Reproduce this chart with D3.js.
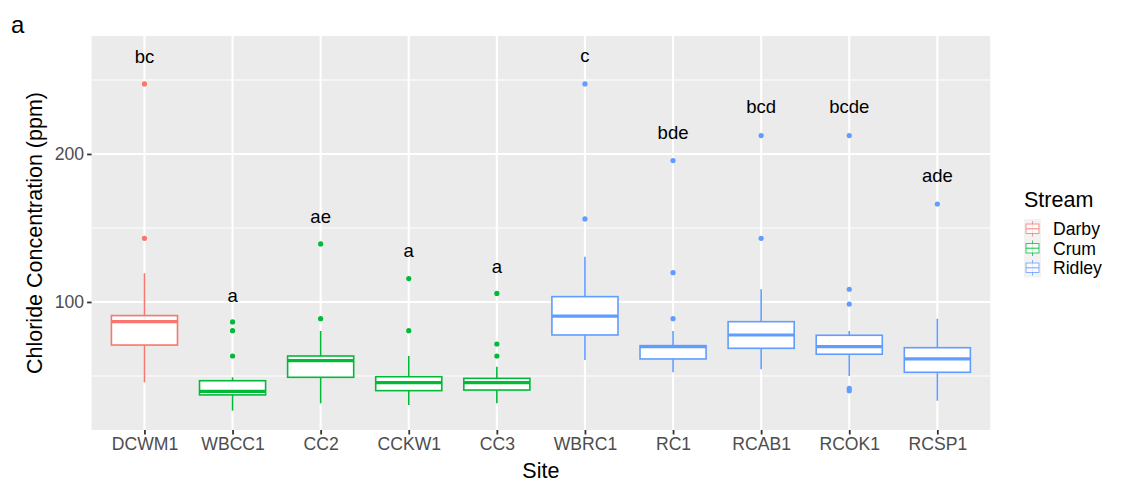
<!DOCTYPE html>
<html>
<head>
<meta charset="utf-8">
<script src="https://cdn.jsdelivr.net/npm/d3@7"></script>
<style>
  body { margin: 0; background: #ffffff; }
  text { font-family: "Liberation Sans", Arial, sans-serif; }
</style>
</head>
<body>
<div id="chart"></div>
<script>
// values (ppm)
const sites = ['DCWM1', 'WBCC1', 'CC2', 'CCKW1', 'CC3', 'WBRC1', 'RC1', 'RCAB1', 'RCOK1', 'RCSP1'];
const stream = ['Darby', 'Crum', 'Crum', 'Crum', 'Crum', 'Ridley', 'Ridley', 'Ridley', 'Ridley', 'Ridley'];
const whiskerLo = [45.7, 26.6, 31.5, 30.4, 31.5, 60.8, 52.5, 54.5, 50.0, 33.3];
const q1 = [70.9, 37.2, 49.1, 40.1, 40.5, 77.7, 61.5, 68.7, 64.7, 52.5];
const median = [86.7, 39.6, 60.4, 45.5, 45.5, 90.5, 69.8, 77.7, 69.8, 61.5];
const q3 = [90.8, 46.8, 63.5, 49.5, 48.4, 103.6, 70.5, 86.7, 77.5, 69.1];
const whiskerHi = [119.4, 49.1, 80.4, 63.5, 56.3, 130.6, 80.4, 108.6, 80.4, 88.7];
const outliers = [
  [247.3, 143.0],
  [86.5, 80.6, 63.5],
  [139.2, 88.7],
  [115.8, 80.6],
  [105.8, 71.6, 63.5],
  [247.3, 156.1],
  [195.5, 119.8, 88.7],
  [212.4, 143.0],
  [212.4, 108.6, 98.6, 41.7, 40.1],
  [166.2]
];
const letters = ['bc', 'a', 'ae', 'a', 'a', 'c', 'bde', 'bcd', 'bcde', 'ade'];
const letterY = [265.8, 104.7, 157.7, 134.7, 124.3, 266.9, 214.6, 232.0, 232.0, 185.3];
const yTicks = [100, 200];
const yMinor = [50, 150, 250];
const streams = ['Darby', 'Crum', 'Ridley'];
const streamColors = ['#F8766D', '#00BA38', '#619CFF'];

const width = 1125;
const height = 493;
const panel = { left: 91.6, right: 990.2, top: 36, bottom: 430 };

const svg = d3.select('#chart')
  .append('svg')
  .attr('width', width)
  .attr('height', height);

const x = d3.scalePoint()
  .domain(sites)
  .range([panel.left, panel.right])
  .padding(0.6);

const y = d3.scaleLinear()
  .domain([13.5, 279.7])
  .range([panel.bottom, panel.top]);

const color = d3.scaleOrdinal(streams, streamColors);
const boxW = x.step() * 0.75;

// panel background and grid
svg.append('rect')
  .attr('x', panel.left)
  .attr('y', panel.top)
  .attr('width', panel.right - panel.left)
  .attr('height', panel.bottom - panel.top)
  .attr('fill', '#EBEBEB');

svg.append('g')
  .selectAll('line')
  .data(yMinor)
  .join('line')
  .attr('x1', panel.left)
  .attr('x2', panel.right)
  .attr('y1', (d) => y(d))
  .attr('y2', (d) => y(d))
  .attr('stroke', '#ffffff')
  .attr('stroke-width', 1.1);

svg.append('g')
  .selectAll('line')
  .data(yTicks)
  .join('line')
  .attr('x1', panel.left)
  .attr('x2', panel.right)
  .attr('y1', (d) => y(d))
  .attr('y2', (d) => y(d))
  .attr('stroke', '#ffffff')
  .attr('stroke-width', 2.1);

svg.append('g')
  .selectAll('line')
  .data(sites)
  .join('line')
  .attr('x1', (d) => x(d))
  .attr('x2', (d) => x(d))
  .attr('y1', panel.top)
  .attr('y2', panel.bottom)
  .attr('stroke', '#ffffff')
  .attr('stroke-width', 2.1);

// axes
const yAxis = svg.append('g')
  .attr('transform', `translate(${panel.left},0)`)
  .call(d3.axisLeft(y).tickValues(yTicks).tickSize(4.5).tickPadding(3));
yAxis.select('.domain').remove();
yAxis.selectAll('line').attr('stroke', '#333333').attr('stroke-width', 1.8);
yAxis.selectAll('text')
  .attr('fill', '#4D4D4D')
  .style('font-size', '17.6px')
  .style('font-family', '"Liberation Sans", Arial, sans-serif');

const xAxis = svg.append('g')
  .attr('transform', `translate(0,${panel.bottom})`)
  .call(d3.axisBottom(x).tickSize(4.5).tickPadding(3));
xAxis.select('.domain').remove();
xAxis.selectAll('line').attr('stroke', '#333333').attr('stroke-width', 1.8);
xAxis.selectAll('text')
  .attr('fill', '#4D4D4D')
  .style('font-size', '17.6px')
  .style('font-family', '"Liberation Sans", Arial, sans-serif');

// boxplots
const boxes = svg.append('g')
  .selectAll('g')
  .data(sites)
  .join('g');

boxes.append('line')
  .attr('x1', (d) => x(d))
  .attr('x2', (d) => x(d))
  .attr('y1', (d, i) => y(whiskerHi[i]))
  .attr('y2', (d, i) => y(q3[i]))
  .attr('stroke', (d, i) => color(stream[i]))
  .attr('stroke-width', 1.6);

boxes.append('line')
  .attr('x1', (d) => x(d))
  .attr('x2', (d) => x(d))
  .attr('y1', (d, i) => y(q1[i]))
  .attr('y2', (d, i) => y(whiskerLo[i]))
  .attr('stroke', (d, i) => color(stream[i]))
  .attr('stroke-width', 1.6);

boxes.append('rect')
  .attr('x', (d) => x(d) - boxW / 2)
  .attr('width', boxW)
  .attr('y', (d, i) => y(q3[i]))
  .attr('height', (d, i) => y(q1[i]) - y(q3[i]))
  .attr('fill', '#ffffff')
  .attr('stroke', (d, i) => color(stream[i]))
  .attr('stroke-width', 1.6);

boxes.append('line')
  .attr('x1', (d) => x(d) - boxW / 2)
  .attr('x2', (d) => x(d) + boxW / 2)
  .attr('y1', (d, i) => y(median[i]))
  .attr('y2', (d, i) => y(median[i]))
  .attr('stroke', (d, i) => color(stream[i]))
  .attr('stroke-width', 3.2);

boxes.selectAll('circle')
  .data((d, i) => outliers[i].map((v) => ({ site: d, v, s: stream[i] })))
  .join('circle')
  .attr('cx', (d) => x(d.site))
  .attr('cy', (d) => y(d.v))
  .attr('r', 2.6)
  .attr('fill', (d) => color(d.s));

// significance letters
svg.append('g')
  .selectAll('text')
  .data(sites)
  .join('text')
  .attr('x', (d) => x(d))
  .attr('y', (d, i) => y(letterY[i]))
  .attr('dy', '0.36em')
  .attr('text-anchor', 'middle')
  .style('font-size', '18.5px')
  .attr('fill', '#000000')
  .text((d, i) => letters[i]);

// titles
svg.append('text')
  .attr('x', 11)
  .attr('y', 33)
  .style('font-size', '24px')
  .attr('fill', '#000000')
  .text('a');

svg.append('text')
  .attr('x', (panel.left + panel.right) / 2)
  .attr('y', 478)
  .attr('text-anchor', 'middle')
  .style('font-size', '21.5px')
  .attr('fill', '#000000')
  .text('Site');

svg.append('text')
  .attr('transform', `translate(42,${(panel.top + panel.bottom) / 2}) rotate(-90)`)
  .attr('text-anchor', 'middle')
  .style('font-size', '21.5px')
  .attr('fill', '#000000')
  .text('Chloride Concentration (ppm)');

// legend
const legend = svg.append('g');
legend.append('text')
  .attr('x', 1024)
  .attr('y', 206.5)
  .style('font-size', '21.5px')
  .attr('fill', '#000000')
  .text('Stream');

const item = legend.selectAll('g.item')
  .data(streams)
  .join('g')
  .attr('class', 'item')
  .attr('transform', (d, i) => `translate(1024,${219 + i * 19.5})`);

item.append('rect')
  .attr('width', 17)
  .attr('height', 19.5)
  .attr('fill', '#F2F2F2');

item.append('line')
  .attr('x1', 8.5).attr('x2', 8.5)
  .attr('y1', 2).attr('y2', 17.5)
  .attr('stroke', (d) => color(d))
  .attr('stroke-width', 1)
  .attr('opacity', 0.75);

item.append('rect')
  .attr('x', 2).attr('width', 13)
  .attr('y', 5).attr('height', 9.5)
  .attr('fill', '#ffffff')
  .attr('stroke', (d) => color(d))
  .attr('stroke-width', 1)
  .attr('opacity', 0.75);

item.append('line')
  .attr('x1', 2).attr('x2', 15)
  .attr('y1', 9.75).attr('y2', 9.75)
  .attr('stroke', (d) => color(d))
  .attr('stroke-width', 1.2)
  .attr('opacity', 0.75);

item.append('text')
  .attr('x', 29)
  .attr('y', 16)
  .style('font-size', '17.6px')
  .attr('fill', '#000000')
  .text((d) => d);
</script>
</body>
</html>
